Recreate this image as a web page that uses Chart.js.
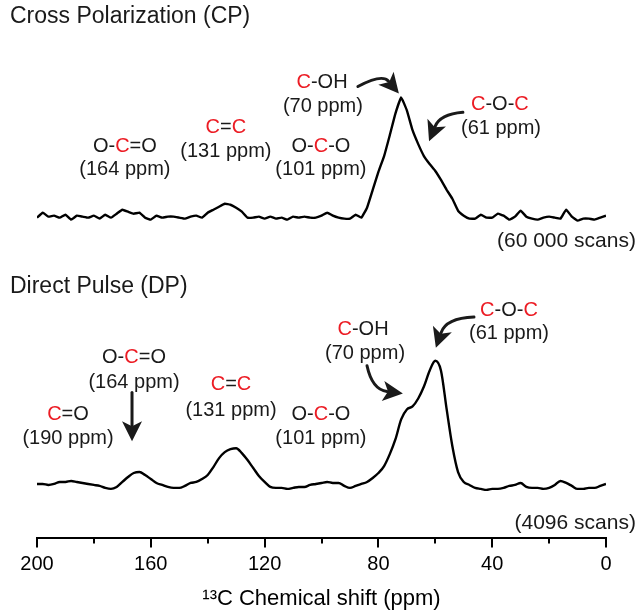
<!DOCTYPE html>
<html>
<head>
<meta charset="utf-8">
<script src="https://cdn.jsdelivr.net/npm/chart.js@4.4.1/dist/chart.umd.min.js"></script>
<style>
  html, body { margin: 0; padding: 0; background: #fff; }
  #nmr { display: block; }
</style>
</head>
<body>
<canvas id="nmr" width="638" height="612"></canvas>
<script>
// 13C chemical shift grid (ppm)
const ppm = [
  200, 198, 196, 194, 192, 190, 188, 186, 184, 182,
  180, 178, 176, 174, 172, 170, 168, 166, 164, 162,
  160, 158, 156, 154, 152, 150, 148, 146, 144, 142,
  140, 138, 136, 134, 132, 130, 128, 126, 124, 122,
  120, 118, 116, 114, 112, 110, 108, 106, 104, 102,
  100, 98, 96, 94, 92, 90, 88, 86, 84, 82,
  80, 78, 76, 74, 72, 70, 68, 66, 64, 62,
  60, 58, 56, 54, 52, 50, 48, 46, 44, 42,
  40, 38, 36, 34, 32, 30, 28, 26, 24, 22,
  20, 18, 16, 14, 12, 10, 8, 6, 4, 2,
  0
];

// Cross Polarization spectrum (60 000 scans), a.u.
const cpIntensity = [
  -1, 4, 0, 1, -1, 2, -3, 1, 0, -1,
  1, -2, 2, -1, 3, 7, 5, 3, 4, -1,
  -3, 1, -1, 0, 0, -1, -2, 0, 1, -1,
  4, 7, 10, 13, 12, 9, 5, -1, -1, 0,
  -2, 0, -2, -1, -3, 0, -1, 0, -1, -1,
  1, 4, 1, -1, -2, -2, 2, -1, 9, 27,
  45, 61, 82, 104, 120, 107, 87, 73, 61, 53,
  46, 37, 27, 18, 6, 1, -2, -2, 2, -1,
  -1, 3, 1, -3, 0, 6, 0, -2, -3, -1,
  0, -1, -2, 7, 0, -4, -2, -2, -3, -1,
  1
];

// Direct Pulse spectrum (4096 scans), a.u.
const dpIntensity = [
  0, 0, -1, 0, 2, 2, 3, 2, 1, 0,
  -1, -2, -4, -5, -3, 2, 7, 11, 12, 9,
  5, 1, -1, -3, -4, -4, -2, 1, 2, 5,
  9, 17, 26, 32, 35, 36, 31, 24, 16, 8,
  2, -3, -4, -4, -5, -4, -3, -3, -1, 0,
  1, 2, 1, 1, -2, -4, -2, 0, 2, 6,
  11, 18, 30, 45, 65, 75, 78, 86, 98, 114,
  124, 114, 75, 38, 12, 2, -1, -4, -5, -6,
  -5, -5, -4, -2, -1, 1, -3, -4, -4, -5,
  -4, -1, 3, 1, -2, -5, -5, -4, -4, -2,
  0
];

const cpOffset = 269;               // CP trace is stacked above the DP trace
const xTicks = [200, 160, 120, 80, 40, 0];
const xMinorTicks = [180, 140, 100, 60, 20];

const RED = '#ec1c24';
const INK = '#1a1a1a';
const FONT = "'Liberation Sans', Arial, Helvetica, sans-serif";

// text labels: {C} is drawn in red; position in (ppm, intensity) units
const notes = [
  { t: 'Cross Polarization (CP)', at: [209.5, 470], size: 23, align: 'left' },
  { t: 'O-{C}=O', at: [169.1, 340] },
  { t: '(164 ppm)', at: [169.1, 316] },
  { t: '{C}={C}', at: [133.6, 359] },
  { t: '(131 ppm)', at: [133.6, 335] },
  { t: 'O-{C}-O', at: [100.2, 340] },
  { t: '(101 ppm)', at: [100.2, 316] },
  { t: '{C}-OH', at: [99.8, 404] },
  { t: '(70 ppm)', at: [99.5, 380] },
  { t: '{C}-O-{C}', at: [37.3, 382] },
  { t: '(61 ppm)', at: [36.9, 358] },
  { t: '(60 000 scans)', at: [-10.5, 244], size: 21, align: 'right' },

  { t: 'Direct Pulse (DP)', at: [209.5, 199], size: 23, align: 'left' },
  { t: '{C}-O-{C}', at: [34.1, 175] },
  { t: '(61 ppm)', at: [34.1, 151] },
  { t: '{C}-OH', at: [85.4, 155] },
  { t: '(70 ppm)', at: [84.7, 131] },
  { t: 'O-{C}=O', at: [165.9, 127] },
  { t: '(164 ppm)', at: [165.9, 102] },
  { t: '{C}=O', at: [189.1, 70] },
  { t: '(190 ppm)', at: [189.1, 46] },
  { t: '{C}={C}', at: [131.8, 100] },
  { t: '(131 ppm)', at: [131.8, 74] },
  { t: 'O-{C}-O', at: [100.2, 70] },
  { t: '(101 ppm)', at: [100.2, 46] },
  { t: '(4096 scans)', at: [-10.5, -40], size: 21, align: 'right' }
];

// arrows: start, control, tip in (ppm, intensity) units
const arrows = [
  [[87.2, 400], [78.7, 413], [72.8, 393]],
  [[50.3, 374], [58.3, 372], [62.2, 345]],
  [[46.4, 168], [56.2, 167], [59.8, 137]],
  [[84.0, 119], [82.2, 95], [71.4, 91]],
  [[166.6, 92], [166.6, 68], [166.6, 43]]
];

const annotate = {
  id: 'annotate',
  afterDraw(chart) {
    const { ctx, chartArea } = chart;
    const x = chart.scales.x, y = chart.scales.y;
    ctx.save();

    // minor ticks on the shift axis
    ctx.strokeStyle = '#000';
    ctx.lineWidth = 2;
    xMinorTicks.forEach(v => {
      const px = Math.round(x.getPixelForValue(v));
      ctx.beginPath();
      ctx.moveTo(px, chartArea.bottom);
      ctx.lineTo(px, chartArea.bottom + 6);
      ctx.stroke();
    });

    // labels
    ctx.textBaseline = 'middle';
    notes.forEach(n => {
      ctx.font = (n.size || 20) + 'px ' + FONT;
      const parts = n.t.split(/(\{[^}]*\})/).filter(s => s).map(s =>
        s[0] === '{' ? [s.slice(1, -1), RED] : [s, INK]);
      const total = parts.reduce((w, p) => w + ctx.measureText(p[0]).width, 0);
      const px = x.getPixelForValue(n.at[0]), py = y.getPixelForValue(n.at[1]);
      let cx = n.align === 'left' ? px : n.align === 'right' ? px - total : px - total / 2;
      ctx.textAlign = 'left';
      parts.forEach(p => {
        ctx.fillStyle = p[1];
        ctx.fillText(p[0], cx, py);
        cx += ctx.measureText(p[0]).width;
      });
    });

    // arrows
    ctx.strokeStyle = INK;
    ctx.fillStyle = INK;
    ctx.lineWidth = 3;
    ctx.lineCap = 'round';
    arrows.forEach(a => {
      const [s, c, t] = a.map(p => [x.getPixelForValue(p[0]), y.getPixelForValue(p[1])]);
      const dx = t[0] - c[0], dy = t[1] - c[1];
      const len = Math.hypot(dx, dy);
      const ux = dx / len, uy = dy / len;
      const head = 20, half = 10;
      const bx = t[0] - ux * head, by = t[1] - uy * head;
      ctx.beginPath();
      ctx.moveTo(s[0], s[1]);
      ctx.quadraticCurveTo(c[0], c[1], bx + ux * 4, by + uy * 4);
      ctx.stroke();
      ctx.beginPath();
      ctx.moveTo(t[0], t[1]);
      ctx.lineTo(bx - uy * half, by + ux * half);
      ctx.lineTo(bx + ux * 5, by + uy * 5);
      ctx.lineTo(bx + uy * half, by - ux * half);
      ctx.closePath();
      ctx.fill();
    });
    ctx.restore();
  }
};

new Chart(document.getElementById('nmr'), {
  type: 'line',
  data: {
    datasets: [
      {
        label: 'CP',
        data: ppm.map((p, i) => ({ x: p, y: cpIntensity[i] + cpOffset })),
        borderColor: '#000',
        borderWidth: 2.4,
        pointRadius: 0,
        tension: 0.1
      },
      {
        label: 'DP',
        data: ppm.map((p, i) => ({ x: p, y: dpIntensity[i] })),
        borderColor: '#000',
        borderWidth: 2.4,
        pointRadius: 0,
        cubicInterpolationMode: 'monotone'
      }
    ]
  },
  options: {
    responsive: false,
    animation: false,
    layout: { padding: { left: 37, right: 32, top: 10, bottom: 0 } },
    plugins: {
      legend: { display: false },
      tooltip: { enabled: false }
    },
    scales: {
      x: {
        type: 'linear',
        reverse: true,
        min: 0,
        max: 200,
        afterBuildTicks: axis => { axis.ticks = xTicks.map(v => ({ value: v })); },
        border: { display: true, color: '#000', width: 2 },
        grid: { drawOnChartArea: false, drawTicks: true, tickLength: 10, color: '#000', lineWidth: 2 },
        ticks: {
          color: '#000',
          padding: 5,
          maxRotation: 0,
          autoSkip: false,
          font: { family: FONT, size: 20 }
        },
        title: {
          display: true,
          text: '¹³C Chemical shift (ppm)',
          color: '#000',
          font: { family: FONT, size: 22 },
          padding: { top: 4, bottom: 0 }
        }
      },
      y: {
        display: false,
        min: -54,
        max: 477
      }
    }
  },
  plugins: [annotate]
});
</script>
</body>
</html>
